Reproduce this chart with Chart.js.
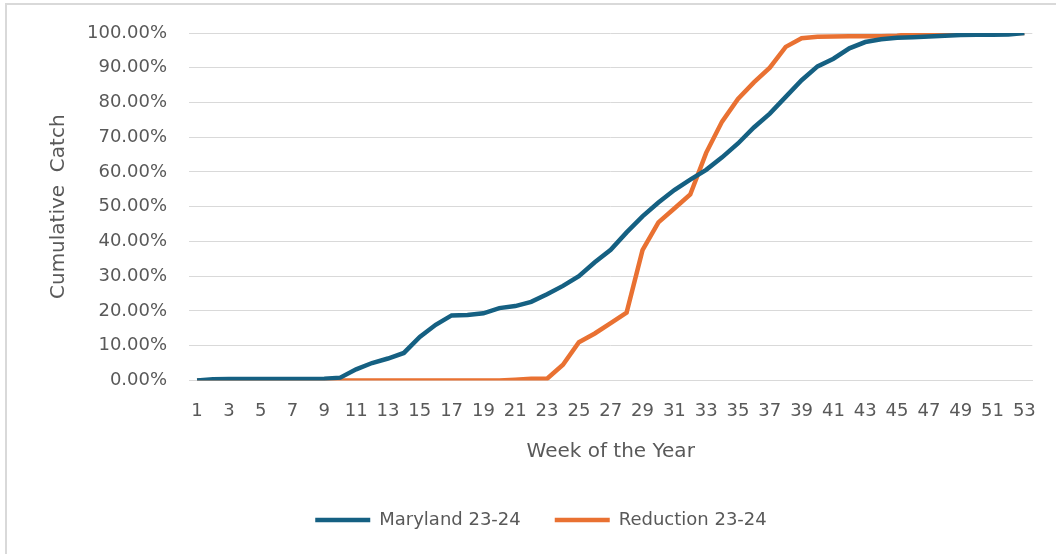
<!DOCTYPE html>
<html>
<head>
<meta charset="utf-8">
<script src="https://cdn.jsdelivr.net/npm/chart.js@4.4.1/dist/chart.umd.min.js"></script>
<style>
  html, body { margin: 0; padding: 0; background: #fff; }
  #wrap { position: relative; width: 1056px; height: 554px; overflow: hidden; }
  #frame { position: absolute; left: 5px; top: 3px; width: 1200px; height: 700px;
           border-left: 2px solid #d9d9d9; border-top: 2px solid #d9d9d9; }
  canvas { position: absolute; left: 0; top: 0; }
</style>
</head>
<body>
<div id="wrap">
  <div id="frame"></div>
  <canvas id="catchChart" width="1056" height="554"></canvas>
</div>
<script>
// week numbers on the category axis
const weeks = [1, 2, 3, 4, 5, 6, 7, 8, 9, 10, 11, 12, 13, 14, 15, 16, 17, 18, 19, 20,
    21, 22, 23, 24, 25, 26, 27, 28, 29, 30, 31, 32, 33, 34, 35, 36, 37, 38, 39, 40,
    41, 42, 43, 44, 45, 46, 47, 48, 49, 50, 51, 52, 53];

// cumulative catch, percent
const maryland = [0, 0.3, 0.4, 0.4, 0.4, 0.4, 0.4, 0.4, 0.5, 0.8,
    3.2, 5.0, 6.3, 7.9, 12.5, 16.0, 18.7, 18.8, 19.3, 20.8,
    21.4, 22.6, 24.8, 27.2, 30.0, 34.0, 37.6, 42.6, 47.2, 51.2,
    54.8, 57.8, 60.6, 64.2, 68.2, 72.8, 76.8, 81.6, 86.4, 90.4,
    92.6, 95.6, 97.4, 98.2, 98.6, 98.8, 99.0, 99.2, 99.4, 99.5,
    99.5, 99.6, 100];

const reduction = [0, 0, 0, 0, 0, 0, 0, 0, 0, 0,
    0, 0, 0, 0, 0, 0, 0, 0, 0, 0,
    0.2, 0.5, 0.5, 4.5, 11.0, 13.5, 16.5, 19.5, 37.5, 45.5,
    49.5, 53.5, 65.5, 74.5, 81.0, 85.8, 90.0, 96.0, 98.5, 98.9,
    99.0, 99.1, 99.1, 99.1, 99.2, 99.8, 100, 100, 100, 100,
    100, 100, 100];

const seriesNames = ['Maryland 23-24', 'Reduction 23-24'];
const seriesColors = ['#156082', '#E97132'];

const fontFamily = '"DejaVu Sans", sans-serif';
const textColor = '#595959';
const gridColor = '#d9d9d9';

const ctx = document.getElementById('catchChart').getContext('2d');

new Chart(ctx, {
    type: 'line',
    data: {
        labels: weeks,
        datasets: [maryland, reduction].map((values, i) => ({
            label: seriesNames[i],
            data: values,
            borderColor: seriesColors[i],
            backgroundColor: seriesColors[i],
            borderWidth: 4.5,
            pointRadius: 0,
            pointHoverRadius: 0,
            tension: 0,
            pointStyle: 'line'
        }))
    },
    options: {
        responsive: false,
        animation: false,
        layout: {
            padding: { left: 47, right: 21, top: 33, bottom: 15 }
        },
        plugins: {
            tooltip: { enabled: false },
            legend: {
                position: 'bottom',
                labels: {
                    usePointStyle: true,
                    pointStyleWidth: 55,
                    boxHeight: 18,
                    padding: 34,
                    color: textColor,
                    font: { family: fontFamily, size: 18 }
                }
            }
        },
        scales: {
            x: {
                offset: true,
                grid: { display: false, drawTicks: false },
                border: { display: true, color: gridColor },
                ticks: {
                    autoSkip: false,
                    maxRotation: 0,
                    padding: 20,
                    color: textColor,
                    font: { family: fontFamily, size: 18 },
                    callback: function (value, index) {
                        return index % 2 === 0 ? this.getLabelForValue(value) : '';
                    }
                },
                title: {
                    display: true,
                    text: 'Week of the Year',
                    color: textColor,
                    font: { family: fontFamily, size: 20 },
                    padding: { top: -2, bottom: 13 }
                }
            },
            y: {
                min: 0,
                max: 100,
                grid: { color: gridColor, drawTicks: false },
                border: { display: false },
                ticks: {
                    stepSize: 10,
                    padding: 22,
                    color: textColor,
                    font: { family: fontFamily, size: 18 },
                    callback: value => value.toFixed(2) + '%'
                },
                title: {
                    display: true,
                    text: 'Cumulative  Catch',
                    color: textColor,
                    font: { family: fontFamily, size: 20 },
                    padding: { top: 0, bottom: -6 }
                }
            }
        }
    }
});
</script>
</body>
</html>
